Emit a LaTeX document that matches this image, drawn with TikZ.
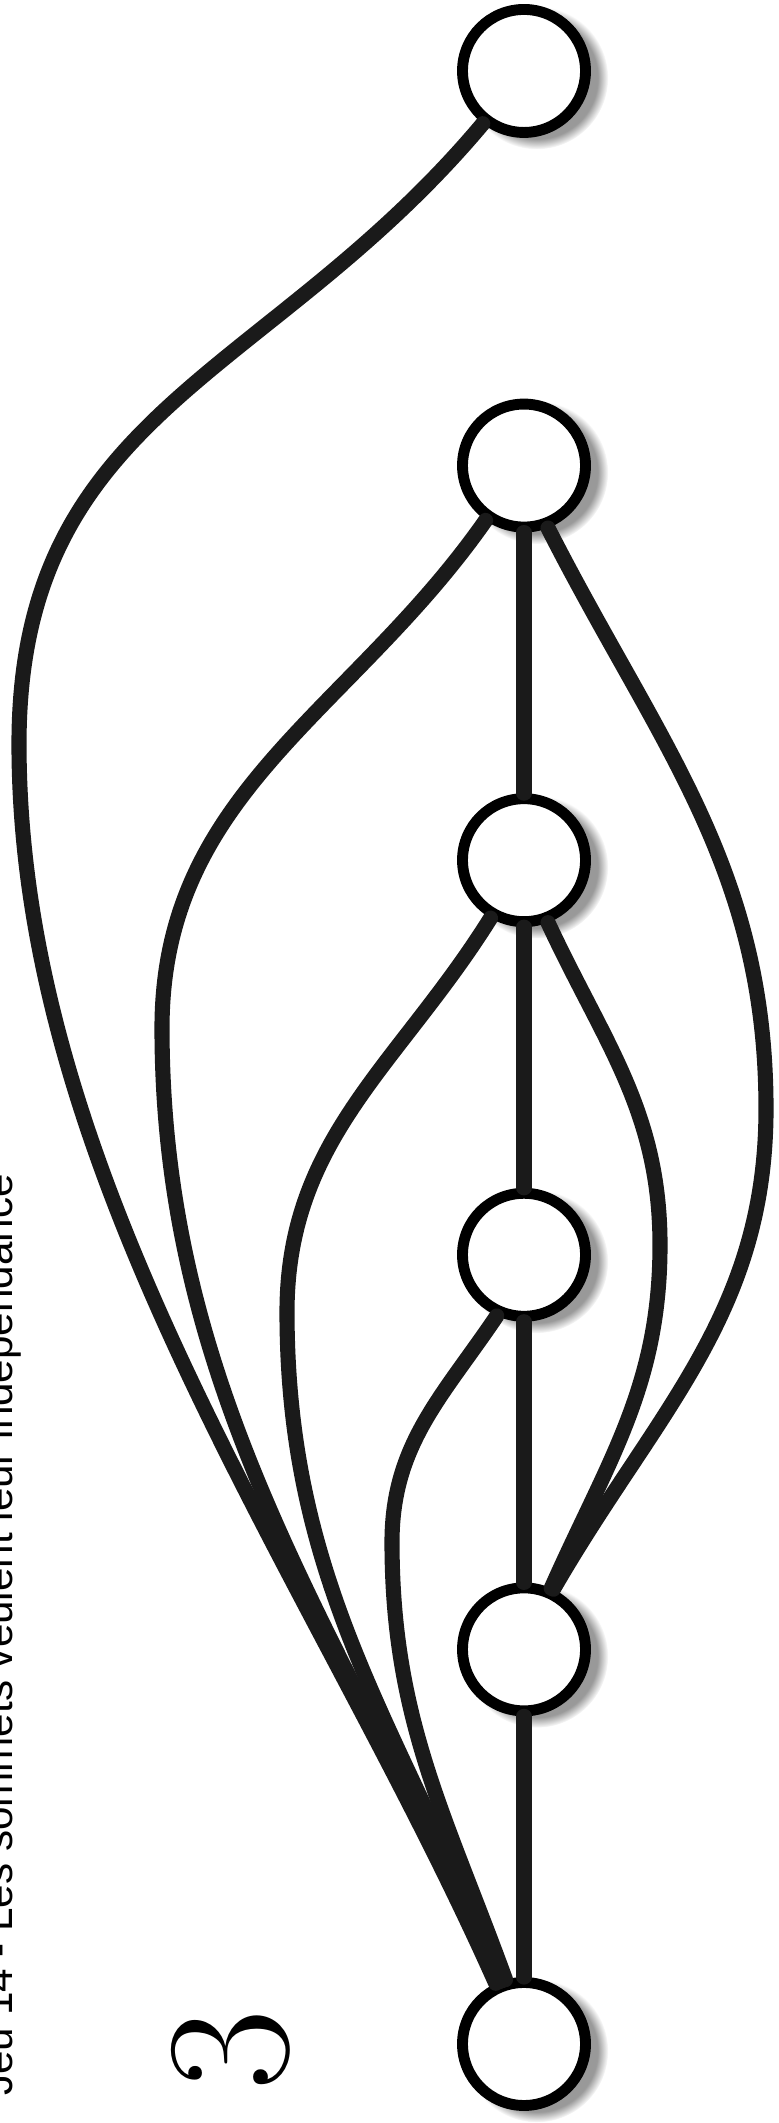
\documentclass[tikz,border=0pt]{standalone}
\usepackage{fontspec}
\usepackage{tikz}
\usetikzlibrary{shadows}
\newfontfamily\titrefont{Liberation Sans}
\definecolor{arete}{RGB}{26,26,26}

\begin{document}
\begin{tikzpicture}[
  sommet/.style={circle, draw=black, fill=white, line width=3.1pt, minimum size=1.23cm, inner sep=0pt,
    circular drop shadow={shadow xshift=0.11cm, shadow yshift=-0.06cm, shadow scale=1.16, opacity=0.8}},
  lien/.style={draw=arete, line width=4.3pt, line cap=round}]
  \useasboundingbox (0,0) rectangle (7.78,21.23);
  \node[rotate=90, anchor=base west, font=\titrefont\fontsize{12}{14}\selectfont] (titre) at (0.125,0.15)
    {Jeu 14 - Les sommets veulent leur indépendance};
  \node[rotate=90, font=\fontsize{50}{60}\selectfont] (numero) at (2.31,0.73) {3};
  \foreach \i in {1,...,6}
    \node[sommet] (n\i) at (5.24,{20.52-(\i-1)*3.946}) {};
  % points extremes des courbes
  \coordinate (wA) at (0.19,13.79);
  \coordinate (wB) at (1.62,10.95);
  \coordinate (wC) at (2.87,8.11);
  \coordinate (wD) at (3.92,5.81);
  \coordinate (wE) at (7.66,10.14);
  \coordinate (wF) at (6.60,8.78);
  \foreach \a/\b in {2/3,3/4,4/5,5/6}
    \draw[lien] (n\a) -- (n\b);
  \draw[lien] (n1.232) to[out=230,in=90,looseness=1.1] (wA) to[out=-90,in=114,looseness=0.85] (n6.115);
  \draw[lien] (n2.235) to[out=235,in=90] (wB) to[out=-90,in=114,looseness=0.95] (n6.112);
  \draw[lien] (n3.240) to[out=238,in=90] (wC) to[out=-90,in=112] (n6.109);
  \draw[lien] (n4.246) to[out=236,in=90] (wD) to[out=-90,in=110] (n6.106);
  \draw[lien] (n2.291) to[out=297,in=90] (wE) to[out=-90,in=60] (n5.64);
  \draw[lien] (n3.291) to[out=295,in=90] (wF) to[out=-90,in=66] (n5.66);
\end{tikzpicture}
\end{document}
